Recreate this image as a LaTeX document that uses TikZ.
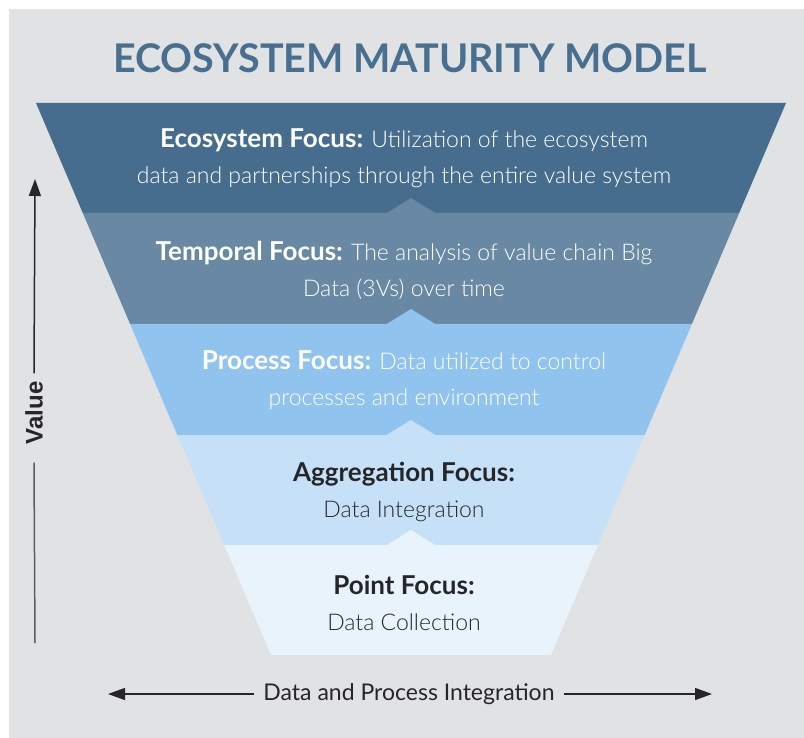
\documentclass[tikz,border=0pt]{standalone}
\usepackage{fontspec}
\setmainfont{Lato}
\newfontfamily\thinfont{Lato Light}
\newfontfamily\axisfont{Liberation Sans}
\usetikzlibrary{arrows.meta, positioning}

\definecolor{panelgray}{HTML}{E1E2E4}
\definecolor{titleblue}{HTML}{486F8F}
\definecolor{bandA}{HTML}{476D8E}
\definecolor{bandB}{HTML}{6888A3}
\definecolor{bandC}{HTML}{90C4EF}
\definecolor{bandD}{HTML}{C6E1F7}
\definecolor{bandE}{HTML}{E8F3FC}
\definecolor{inkdark}{HTML}{262628}

\newcommand{\focushead}[1]{{\normalfont\bfseries\fontsize{26}{36}\selectfont #1}}

\tikzset{
  focus/.style={align=center, font=\thinfont\fontsize{23}{36}\selectfont},
  arr/.style={-{Triangle[length=17pt,width=12pt]}, line width=1.5pt, draw=inkdark},
}

\begin{document}
\begin{tikzpicture}[x=1pt,y=-1pt]
    \useasboundingbox (0,0) rectangle (804,738);
    \fill[panelgray] (9,9) rectangle (804,738);

    % Title
    \node[font=\bfseries\fontsize{39.5}{40}\selectfont, text=titleblue] (title) at (410,58) {ECOSYSTEM MATURITY MODEL};

    % Funnel bands, top to bottom
    \fill[bandA] (36,103) -- (786,103) -- (739.2,213) -- (82.8,213) -- cycle;
    \fill[bandB] (82.8,213) -- (739.2,213) -- (691.9,324) -- (130.1,324) -- cycle;
    \fill[bandC] (130.1,324) -- (691.9,324) -- (644.7,435) -- (177.3,435) -- cycle;
    \fill[bandD] (177.3,435) -- (644.7,435) -- (597.8,545) -- (224.2,545) -- cycle;
    \fill[bandE] (224.2,545) -- (597.8,545) -- (551,655) -- (271,655) -- cycle;

    % Small peaks where each band pushes into the one above
    \foreach \y/\col in {213/bandB, 324/bandC, 435/bandD, 545/bandE} {
        \fill[\col] (386,\y+0.5) -- (411,\y-15) -- (436,\y+0.5) -- cycle;
    }

    % Band texts
    \node[focus, text=white] (eco) at (404,158)
        {\focushead{Ecosystem Focus:} Utilization of the ecosystem\\data and partnerships through the entire value system};
    \node[focus, text=white] (temporal) at (404,270)
        {\focushead{Temporal Focus:} The analysis of value chain Big\\Data (3Vs) over time};
    \node[focus, text=white] (process) at (404,380)
        {\focushead{Process Focus:} Data utilized to control\\processes and environment};
    \node[focus, text=inkdark] (aggregation) at (404,492)
        {\focushead{Aggregation Focus:}\\Data Integration};
    \node[focus, text=inkdark] (point) at (404,603)
        {\focushead{Point Focus:}\\Data Collection};

    % Value axis
    \node[font=\axisfont\bfseries\fontsize{24}{24}\selectfont, text=inkdark, rotate=90, inner sep=0pt] (value) at (34,413) {Value};
    \coordinate (valtop) at (35,179);
    \coordinate (valbot) at (35,643);
    \draw[arr] ([yshift=8pt]value.east) -- (valtop);
    \draw[line width=1.5pt, draw=inkdark!75] ([yshift=-18pt]value.west) -- (valbot);

    % Integration axis
    \node[font=\fontsize{23}{23}\selectfont, text=inkdark] (integration) at (409,694) {Data and Process Integration};
    \coordinate (intleft) at (108,694);
    \coordinate (intright) at (712,694);
    \draw[arr] ([xshift=-6pt]integration.west) -- (intleft);
    \draw[arr] ([xshift=6pt]integration.east) -- (intright);
\end{tikzpicture}
\end{document}
